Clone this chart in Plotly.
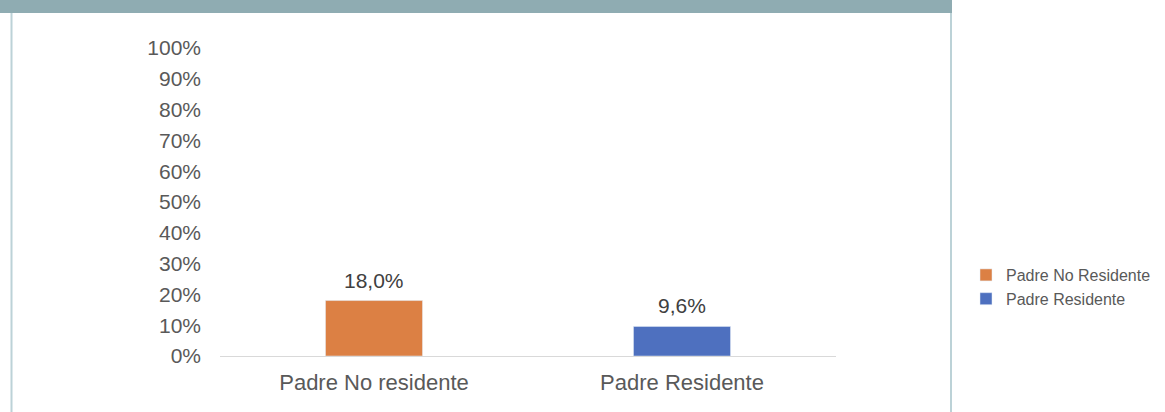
import plotly.graph_objects as go

categories = ["Padre No residente", "Padre Residente"]
series_names = ["Padre No Residente", "Padre Residente"]
values = [0.180, 0.096]
colors = ["#DC8044", "#4E70BF"]
y_ticks = [0, 0.1, 0.2, 0.3, 0.4, 0.5, 0.6, 0.7, 0.8, 0.9, 1.0]

W, H = 1165, 412
fig = go.Figure()
for cat, name, v, c in zip(categories, series_names, values, colors):
    fig.add_trace(go.Bar(
        x=[cat], y=[v], name=name, marker_color=c, width=0.315,
        hoverinfo="skip",
    ))
    fig.add_annotation(
        x=cat, y=v, text=f"{v * 100:.1f}%".replace(".", ","),
        showarrow=False, yanchor="bottom", yshift=7,
        font=dict(size=21, color="#404040", family="Liberation Sans, Arial"),
    )

fig.update_layout(
    width=W, height=H,
    margin=dict(l=0, r=0, t=0, b=0, autoexpand=False),
    paper_bgcolor="white", plot_bgcolor="white",
    barmode="overlay",
    separators=",.",
    font=dict(family="Liberation Sans, Arial", size=21, color="#595959"),
    xaxis=dict(domain=[220 / W, 836 / W], showline=True, linecolor="#D9D9D9",
               linewidth=1, showgrid=False, ticks="", ticklabelstandoff=7,
               automargin=False, fixedrange=True,
               tickfont=dict(size=22, color="#595959")),
    yaxis=dict(domain=[56 / H, 364 / H], range=[0, 1], tickvals=y_ticks,
               tickformat=".0%", showgrid=False, zeroline=False, showline=False,
               ticks="", ticklabelstandoff=18, automargin=False, fixedrange=True,
               tickfont=dict(size=21, color="#595959")),
    legend=dict(xref="container", yref="container",
                x=966 / W, y=1 - 258 / H, xanchor="left", yanchor="top",
                font=dict(family="Liberation Sans, Arial", size=16, color="#595959"),
                bgcolor="rgba(0,0,0,0)"),
    shapes=[
        dict(type="rect", xref="paper", yref="paper", x0=0, x1=952 / W,
             y0=1 - 13 / H, y1=1, fillcolor="#8FACB2", line_width=0, layer="below"),
        dict(type="line", xref="paper", yref="paper", x0=11.5 / W, x1=11.5 / W,
             y0=0, y1=1 - 13 / H, line=dict(color="#BCD2D7", width=2)),
        dict(type="line", xref="paper", yref="paper", x0=951 / W, x1=951 / W,
             y0=0, y1=1 - 13 / H, line=dict(color="#BCD2D7", width=2)),
    ],
)

fig.write_html(
    "out.html",
    config={"displayModeBar": False},
    post_script=(
        "document.body.style.margin='0';"
        "var gd=document.getElementById('{plot_id}');"
        "gd.style.position='fixed';gd.style.top='0px';gd.style.left='0px';"
    ),
)
